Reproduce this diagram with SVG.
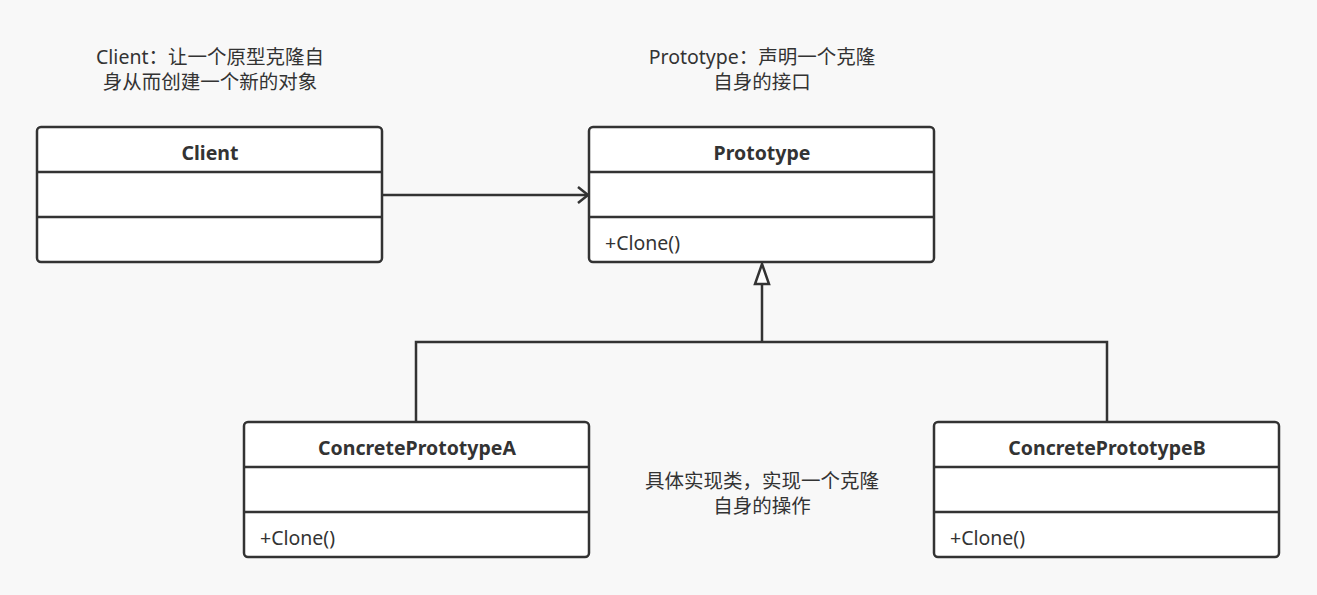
<svg xmlns="http://www.w3.org/2000/svg" width="1317" height="595" viewBox="0 0 1317 595">
<style>
.box{fill:#ffffff;stroke:#333333;stroke-width:2.5}
.sep{stroke:#333333;stroke-width:2.5}
.title{font-family:"Noto Sans","Noto Sans CJK SC",sans-serif;font-weight:bold;font-size:19.5px;fill:#333333;text-anchor:middle}
.op{font-family:"Noto Sans","Noto Sans CJK SC",sans-serif;font-size:19.5px;fill:#333333}
.note{font-family:"Noto Sans","Noto Sans CJK SC",sans-serif;font-size:19.5px;fill:#333333;text-anchor:middle}
.conn{fill:none;stroke:#333333;stroke-width:2.5}
</style>
<defs>
<marker id="open" markerWidth="14" markerHeight="20" refX="12" refY="10" orient="auto" markerUnits="userSpaceOnUse">
<path d="M2,2 L12,10 L2,18" fill="none" stroke="#333333" stroke-width="2.5"/>
</marker>
</defs>
<rect width="1317" height="595" fill="#f8f8f8"/>
<g id="notes">
<text class="note" x="210" y="64">Client：让一个原型克隆自</text>
<text class="note" x="210" y="89">身从而创建一个新的对象</text>
<text class="note" x="762" y="64">Prototype：声明一个克隆</text>
<text class="note" x="762" y="89">自身的接口</text>
<text class="note" x="762" y="488">具体实现类，实现一个克隆</text>
<text class="note" x="762" y="513">自身的操作</text>
</g>
<g id="connectors">
<line class="conn" x1="382" y1="195" x2="588" y2="195" marker-end="url(#open)"/>
<path class="conn" d="M762,342 L762,285"/>
<path d="M762,264 L769,284 L755,284 Z" fill="#ffffff" stroke="#333333" stroke-width="2.5" stroke-linejoin="miter"/>
<path class="conn" d="M416,422 L416,342 L1107,342 L1107,422"/>
</g>
<g id="client">
<rect class="box" x="37" y="127" width="345" height="135" rx="4"/>
<line class="sep" x1="37" y1="172" x2="382" y2="172"/>
<line class="sep" x1="37" y1="217" x2="382" y2="217"/>
<text class="title" x="210" y="160">Client</text>
</g>
<g id="prototype">
<rect class="box" x="589" y="127" width="345" height="135" rx="4"/>
<line class="sep" x1="589" y1="172" x2="934" y2="172"/>
<line class="sep" x1="589" y1="217" x2="934" y2="217"/>
<text class="title" x="762" y="160">Prototype</text>
<text class="op" x="605" y="250">+Clone()</text>
</g>
<g id="concreteA">
<rect class="box" x="244" y="422" width="345" height="135" rx="4"/>
<line class="sep" x1="244" y1="467" x2="589" y2="467"/>
<line class="sep" x1="244" y1="512" x2="589" y2="512"/>
<text class="title" x="417" y="455">ConcretePrototypeA</text>
<text class="op" x="260" y="545">+Clone()</text>
</g>
<g id="concreteB">
<rect class="box" x="934" y="422" width="345" height="135" rx="4"/>
<line class="sep" x1="934" y1="467" x2="1279" y2="467"/>
<line class="sep" x1="934" y1="512" x2="1279" y2="512"/>
<text class="title" x="1107" y="455">ConcretePrototypeB</text>
<text class="op" x="950" y="545">+Clone()</text>
</g>
</svg>
